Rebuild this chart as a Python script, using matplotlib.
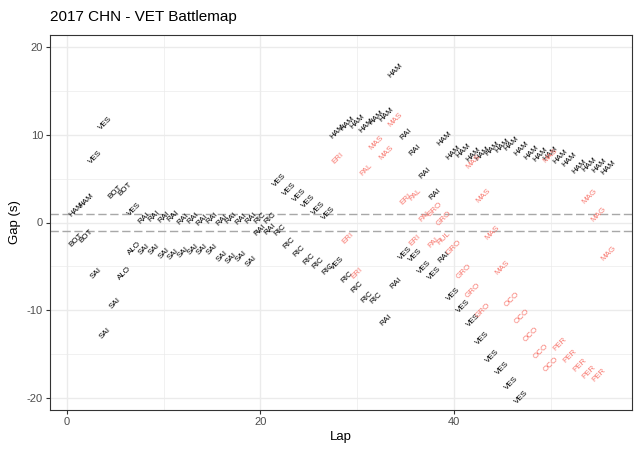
import matplotlib.pyplot as plt
from matplotlib.ticker import MultipleLocator

plt.rcParams['font.family'] = ['Liberation Sans', 'DejaVu Sans']
plt.rcParams['axes.unicode_minus'] = False

# car just ahead of VET on each lap (black labels)
ahead_laps = list(range(1, 57))
ahead_codes = (['HAM', 'HAM', 'VES', 'VES', 'BOT', 'BOT', 'VES'] + ['RAI'] * 12 + ['RIC', 'RIC']
               + ['VES'] * 6 + ['HAM'] * 7 + ['RAI'] * 4 + ['HAM'] * 18)
ahead_gaps = [1.45, 2.5, 7.45, 11.25, 3.5, 3.85, 1.5,
              0.5, 0.7, 0.6, 0.7, 0.4, 0.5, 0.3, 0.5, 0.3, 0.5, 0.4, 0.5,
              0.5, 0.5,
              4.8, 3.8, 3.1, 2.4, 1.6, 1.1,
              10.4, 11.3, 11.5, 11.0, 11.9, 12.3, 17.3,
              10.0, 8.2, 5.6, 3.2,
              9.5, 7.9, 8.2, 7.7, 7.8, 8.4, 8.8, 9.0, 8.4, 7.9, 7.7, 7.8, 7.5, 7.1, 6.4, 6.6, 6.5, 6.2]

# car just behind VET on each lap (black labels)
behind_laps = list(range(1, 48))
behind_codes = (['BOT', 'BOT', 'SAI', 'SAI', 'SAI', 'ALO', 'ALO'] + ['SAI'] * 12 + ['RAI', 'RAI']
                + ['RIC'] * 6 + ['VES'] + ['RIC'] * 4 + ['RAI', 'RAI'] + ['VES'] * 4 + ['RAI'] + ['VES'] * 8)
behind_gaps = [-2.05, -1.6, -5.8, -12.6, -9.2, -5.8, -2.9,
               -3.1, -3.0, -3.5, -3.6, -3.4, -3.1, -3.0, -3.1, -3.8, -4.1, -3.9, -4.4,
               -0.9, -0.8,
               -0.9, -2.35, -3.3, -4.2, -4.6, -5.3,
               -4.6,
               -6.2, -7.3, -8.5, -8.6,
               -11.1, -6.9,
               -3.5, -3.7, -5.1, -5.8,
               -3.9,
               -8.2, -9.5, -11.1, -13.2, -15.2, -16.6, -18.3, -19.9]

# cars on a different lap (red labels)
other_laps = [28, 29, 30, 31, 32, 33, 34, 35, 36, 36, 37, 38, 38, 39, 39, 40, 41, 42, 42, 43, 43,
              44, 45, 46, 47, 48, 49, 50, 50, 51, 52, 53, 54, 55, 54, 55, 56]
other_codes = ['ERI', 'ERI', 'ERI', 'PAL', 'MAS', 'MAS', 'MAS', 'ERI', 'PAL', 'ERI', 'PAL', 'GRO', 'PAL',
               'GRO', 'HUL', 'GRO', 'GRO', 'MAS', 'GRO', 'MAS', 'GRO',
               'MAS', 'MAS', 'OCO', 'OCO', 'OCO', 'OCO', 'OCO', 'MAS', 'PER', 'PER', 'PER', 'PER', 'PER',
               'MAG', 'MAG', 'MAG']
other_gaps = [7.3, -1.8, -5.8, 6.0, 9.05, 7.9, 11.7, 2.7, 3.2, -2.0, 0.8, 1.5, -2.2, 0.5, -1.8, -2.8, -5.6,
              6.9, -7.7, 3.0, -10.0, -1.2, -5.2, -8.8, -10.7, -12.8, -14.7, -16.2, 7.6,
              -13.8, -15.2, -16.2, -17.0, -17.4, 3.0, 0.9, -3.5]

fig = plt.figure(figsize=(6.4, 4.57), dpi=100)
ax = fig.add_axes([50 / 640, 1 - 410 / 457, 582 / 640, 375 / 457])

ax.set_xlim(-1.75, 58.4)
ax.set_ylim(-21.35, 21.35)
ax.xaxis.set_major_locator(MultipleLocator(20))
ax.xaxis.set_minor_locator(MultipleLocator(10))
ax.yaxis.set_major_locator(MultipleLocator(10))
ax.yaxis.set_minor_locator(MultipleLocator(5))
ax.grid(True, which='major', color='#EBEBEB', lw=1.0)
ax.grid(True, which='minor', color='#EBEBEB', lw=0.5)
ax.set_axisbelow(True)
for s in ax.spines.values():
    s.set_color('#333333')
    s.set_linewidth(0.8)
ax.tick_params(which='major', length=3, color='#333333', labelsize=8, labelcolor='#4D4D4D', pad=2)
ax.tick_params(which='minor', length=0)

ax.axhline(1, color='#A8A8A8', lw=1.0, ls=(0, (6, 2.6)))
ax.axhline(-1, color='#A8A8A8', lw=1.0, ls=(0, (6, 2.6)))

def put(laps, codes, gaps, col):
    for l, c, g in zip(laps, codes, gaps):
        ax.text(l, g, c, rotation=45, rotation_mode='anchor', ha='center', va='center',
                fontsize=5.8, color=col, clip_on=True)

put(ahead_laps, ahead_codes, ahead_gaps, 'black')
put(behind_laps, behind_codes, behind_gaps, 'black')
put(other_laps, other_codes, other_gaps, '#F8766D')

ax.set_xlabel('Lap', fontsize=9.5, labelpad=3)
ax.set_ylabel('Gap (s)', fontsize=9.5, labelpad=4)
fig.text(50 / 640, 1 - 21 / 457, '2017 CHN - VET Battlemap', fontsize=11, va='baseline', ha='left')

fig.savefig('out.png', dpi=100)
plt.close()
